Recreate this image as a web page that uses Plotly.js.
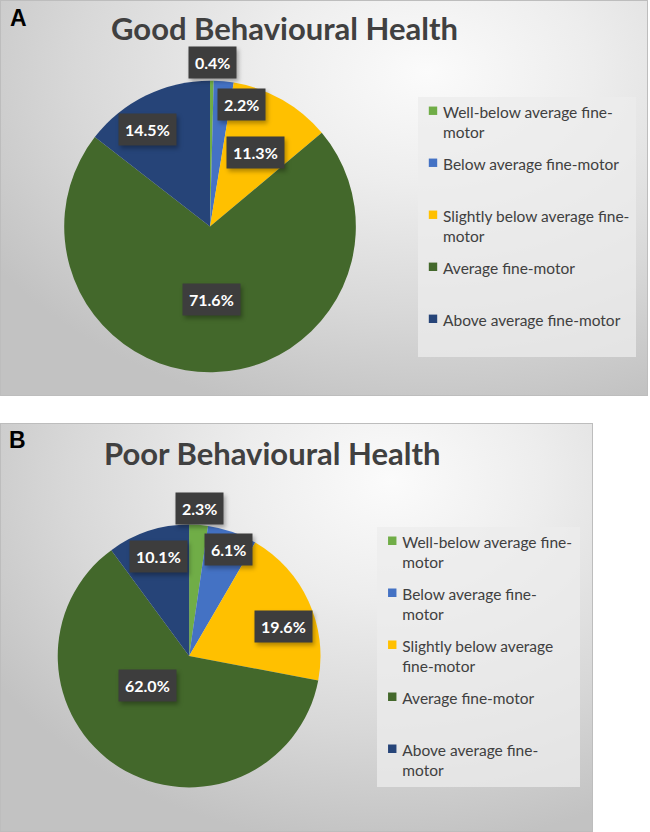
<!DOCTYPE html>
<html>
<head>
<meta charset="utf-8">
<script src="https://cdn.plot.ly/plotly-3.0.1.min.js"></script>
<style>
  html, body { margin: 0; padding: 0; background: #ffffff; }
  #wrap { position: relative; width: 650px; height: 832px; overflow: hidden; }
  .panel { position: absolute; box-sizing: border-box; border: 1px solid #bdbdbd; }
  #bgA {
    left: 0; top: 0; width: 648px; height: 396px;
    background: radial-gradient(ellipse 80% 90% at 66% 18%, #fbfbfb 0%, #ededed 32%, #d8d8d8 68%, #c2c2c2 100%);
  }
  #bgB {
    left: 0; top: 423px; width: 593px; height: 409px;
    background: radial-gradient(ellipse 80% 90% at 66% 14%, #fbfbfb 0%, #ededed 32%, #d8d8d8 68%, #c2c2c2 100%);
  }
  #chart { position: absolute; left: 0; top: 0; width: 650px; height: 832px; }
  /* legend text lines: smaller glyphs and line pitch than the layout font that spaces the entries
     (unscoped so Plotly's text measurer sees the same size) */
  .legendtext tspan.line, .legend2text tspan.line { font-size: 15.5px; }
  /* legend text pulled in toward the swatch column and up toward the panel top */
  text.legendtext, text.legend2text { transform: translate(-15px, -5px); }
  /* smaller legend swatches, nearer the text */
  path.legendpie { transform: translate(15px, -5px) scale(0.7); }
  /* legend panels trimmed to their text */
  g.legend > rect.bg { width: 218px; height: 260px; }
  g.legend2 > rect.bg { width: 203px; height: 260px; }
  /* soft shadow under the value boxes */
  g.annotation rect.bg { filter: drop-shadow(2px 3px 2px rgba(0, 0, 0, 0.3)); }
</style>
</head>
<body>
<div id="wrap">
  <div class="panel" id="bgA"></div>
  <div class="panel" id="bgB"></div>
  <div id="chart"></div>
</div>
<script>
// Fine-motor categories, in slice order (clockwise from 12 o'clock)
const categories = [
  'Well-below average fine-motor',
  'Below average fine-motor',
  'Slightly below average fine-motor',
  'Average fine-motor',
  'Above average fine-motor'
];

// Percentage of children in each fine-motor band
const goodValues = [0.4, 2.2, 11.3, 71.6, 14.5];
const poorValues = [2.3, 6.1, 19.6, 62.0, 10.1];

// Legend wording with line breaks for each panel
const goodLegendText = [
  'Well-below average fine-<br>motor',
  'Below average fine-motor',
  'Slightly below average fine-<br>motor',
  'Average fine-motor',
  'Above average fine-motor'
];
const poorLegendText = [
  'Well-below average fine-<br>motor',
  'Below average fine-<br>motor',
  'Slightly below average<br>fine-motor',
  'Average fine-motor',
  'Above average fine-<br>motor'
];

const panelTitles = ['Good Behavioural Health', 'Poor Behavioural Health'];
const panelLetters = ['A', 'B'];

const sliceColors = ['#70ad47', '#4472c4', '#ffc000', '#43682b', '#264478'];

// ---- geometry / styling ----
const W = 650, H = 832;
const FONT = 'Lato, "Open Sans", sans-serif';
const pieGeom = [
  { cx: 211, cy: 226.5, r: 146.5 },
  { cx: 190, cy: 656, r: 132 }
];
// data-label placement: fraction of the radius and angular nudge (degrees)
const labelPlacement = [
  { radius: [1.12, 0.86, 0.59, 0.50, 0.79], angle: [0, 9, 2, 0, -7] },
  { radius: [1.12, 0.86, 0.75, 0.39, 0.79], angle: [0, 1, 7, 23, 1] }
];

// every legend entry takes two text lines so entries sit at an even pitch;
// `tag` (invisible) keeps the two panels' entries distinct
function legendEntries(texts, tag) {
  return texts.map(t => {
    const lines = t.split('<br>');
    while (lines.length < 2) lines.push('\u00a0');
    return lines.join('<br>') + tag;
  });
}

function pieDomain(g) {
  return {
    x: [(g.cx - g.r) / W, (g.cx + g.r) / W],
    y: [1 - (g.cy + g.r) / H, 1 - (g.cy - g.r) / H]
  };
}

function valueLabels(values, g, place) {
  const total = values.reduce((a, b) => a + b, 0);
  let cum = 0;
  return values.map((v, i) => {
    const mid = (cum + v / 2) / total * 360;
    cum += v;
    const a = (mid + place.angle[i]) * Math.PI / 180;
    const rho = place.radius[i] * g.r;
    const px = g.cx + rho * Math.sin(a);
    const py = g.cy - rho * Math.cos(a);
    return {
      x: px / W, y: 1 - py / H, xref: 'paper', yref: 'paper',
      xanchor: 'center', yanchor: 'middle',
      text: '<b>' + v.toFixed(1) + '%</b>',
      showarrow: false,
      bgcolor: '#3d3d3d',
      borderpad: 6,
      font: { family: FONT, size: 16, color: '#ffffff' }
    };
  });
}

const traces = [
  {
    type: 'pie',
    labels: legendEntries(goodLegendText, ''),
    values: goodValues,
    sort: false,
    direction: 'clockwise',
    rotation: 0,
    marker: { colors: sliceColors, line: { width: 0 } },
    textinfo: 'none',
    hovertext: categories,
    hoverinfo: 'text+value',
    domain: pieDomain(pieGeom[0]),
    legend: 'legend'
  },
  {
    type: 'pie',
    labels: legendEntries(poorLegendText, '\u200b'),
    values: poorValues,
    sort: false,
    direction: 'clockwise',
    rotation: 0,
    marker: { colors: sliceColors, line: { width: 0 } },
    textinfo: 'none',
    hovertext: categories,
    hoverinfo: 'text+value',
    domain: pieDomain(pieGeom[1]),
    legend: 'legend2'
  }
];

const legendStyle = {
  xanchor: 'left', yanchor: 'top',
  bgcolor: 'rgba(236,236,236,0.75)',
  borderwidth: 0,
  valign: 'top',
  font: { family: FONT, size: 18.85, color: '#404040' },
  itemclick: false, itemdoubleclick: false
};

const annotations = [
  {
    text: '<b>' + panelTitles[0] + '</b>', x: 286 / W, y: 1 - 28 / H,
    xref: 'paper', yref: 'paper', showarrow: false, xanchor: 'center', yanchor: 'middle',
    font: { family: FONT, size: 31, color: '#404040' }
  },
  {
    text: '<b>' + panelTitles[1] + '</b>', x: 273 / W, y: 1 - 453 / H,
    xref: 'paper', yref: 'paper', showarrow: false, xanchor: 'center', yanchor: 'middle',
    font: { family: FONT, size: 31, color: '#404040' }
  },
  {
    text: '<b>' + panelLetters[0] + '</b>', x: 19 / W, y: 1 - 18 / H,
    xref: 'paper', yref: 'paper', showarrow: false, xanchor: 'center', yanchor: 'middle',
    font: { family: '"Liberation Sans", Arial, sans-serif', size: 23, color: '#000000' }
  },
  {
    text: '<b>' + panelLetters[1] + '</b>', x: 18 / W, y: 1 - 440 / H,
    xref: 'paper', yref: 'paper', showarrow: false, xanchor: 'center', yanchor: 'middle',
    font: { family: '"Liberation Sans", Arial, sans-serif', size: 23, color: '#000000' }
  }
].concat(
  valueLabels(goodValues, pieGeom[0], labelPlacement[0]),
  valueLabels(poorValues, pieGeom[1], labelPlacement[1])
);

const layout = {
  width: W, height: H,
  margin: { l: 0, r: 0, t: 0, b: 0 },
  paper_bgcolor: 'rgba(0,0,0,0)',
  plot_bgcolor: 'rgba(0,0,0,0)',
  showlegend: true,
  legend: Object.assign({}, legendStyle, { x: 420 / W, y: 1 - 97 / H }),
  legend2: Object.assign({}, legendStyle, { x: 379 / W, y: 1 - 527 / H }),
  annotations: annotations
};

Plotly.newPlot('chart', traces, layout, { displayModeBar: false, staticPlot: true });
</script>
</body>
</html>
